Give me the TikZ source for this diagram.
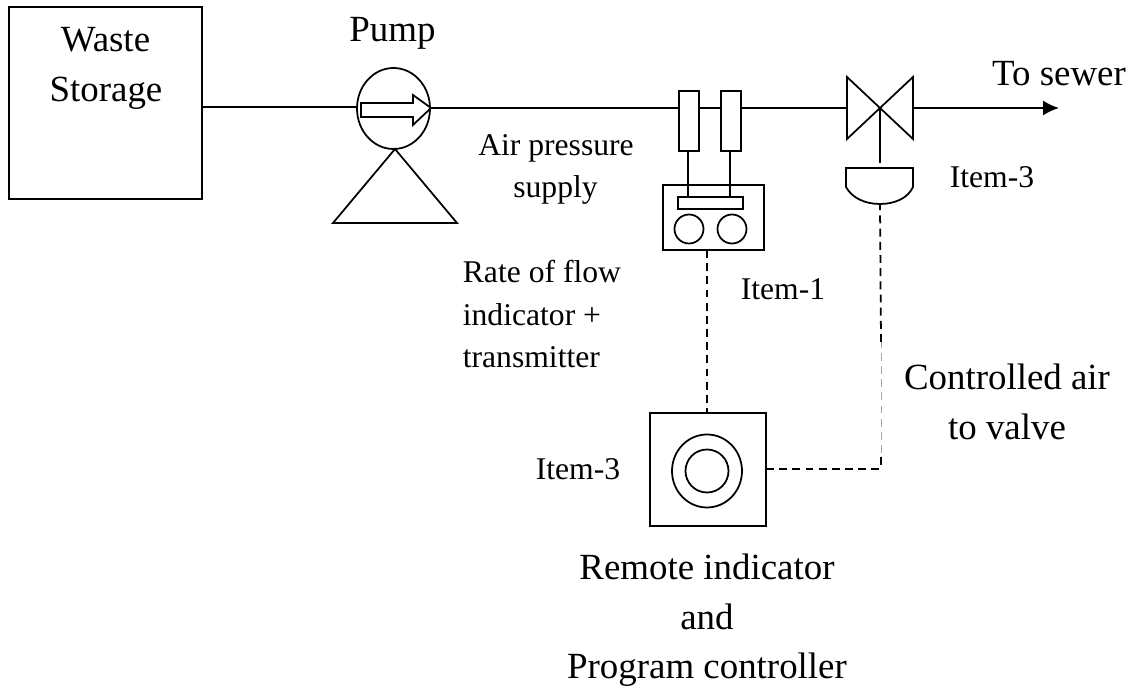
\documentclass[tikz,border=0pt]{standalone}
\usepackage{fontspec}
\setmainfont{Liberation Serif}
\usetikzlibrary{shapes.geometric}
\usetikzlibrary{arrows.meta}

\tikzset{
  box/.style={draw,rectangle,inner sep=0pt,outer sep=0pt},
  round/.style={draw,ellipse,inner sep=0pt,outer sep=0pt},
  biglabel/.style={font=\fontsize{21}{25}\selectfont,anchor=base,inner sep=0pt},
  smalllabel/.style={font=\fontsize{18}{22}\selectfont,anchor=base,inner sep=0pt},
  signal/.style={dash pattern=on 4.5pt off 3pt}
}

\begin{document}
\begin{tikzpicture}[x=0.02cm,y=-0.02cm,line width=1pt]
  \useasboundingbox (0,0) rectangle (1134,688);

  \node[box,minimum width=193*0.02cm,minimum height=192*0.02cm] (storage) at (105.5,103) {};
  \node[round,minimum width=73*0.02cm,minimum height=81*0.02cm] (pump) at (393.5,108.5) {};
  \coordinate (pumpin) at (357,107);
  \coordinate (pumpout) at (431,108);
  \draw (storage.east |- pumpin) -- (pumpin);
  \draw (395,149) coordinate (apex) -- (333,223) -- (457,223) -- cycle;
  \draw (361,103)--(413,103)--(413,95)--(pumpout)--(413,125)--(413,117)--(361,117)--cycle;

  \node[box,minimum width=20*0.02cm,minimum height=60*0.02cm] (sensorA) at (689,121) {};
  \node[box,minimum width=20*0.02cm,minimum height=60*0.02cm] (sensorB) at (731,121) {};
  \coordinate (valveleft) at (847,108);
  \coordinate (valvemid) at (880,109);
  \coordinate (valveright) at (913,108);
  \coordinate (sewer) at (1059,108);
  \draw (pumpout) -- (sensorA.west |- pumpout);
  \draw (sensorA.east |- pumpout) -- (sensorB.west |- pumpout);
  \draw (sensorB.east |- pumpout) -- (valveleft);
  \draw (847,77) -- (913,139) -- (913,77) -- (847,139) -- cycle;
  \draw[-{Latex[length=16*0.02cm,width=15*0.02cm]}] (valveright) -- (sewer);

  % indicator
  \node[box,minimum width=101*0.02cm,minimum height=65*0.02cm] (indicator) at (713.5,217.5) {};
  \node[box,minimum width=65*0.02cm,minimum height=12*0.02cm] (bar) at (710.5,203) {};
  \node[round,minimum size=29*0.02cm] (dialA) at (689,229) {};
  \node[round,minimum size=29*0.02cm] (dialB) at (732,229) {};
  \draw (688,151) -- (688,197);
  \draw (730,151) -- (730,197);

  % actuator
  \coordinate (acttop) at (880,163);
  \coordinate (actbottom) at (880,204);
  \draw (valvemid) -- (acttop);
  \draw (846,168) -- (913,168) -- (913,187) .. controls (908,198) and (895,204) .. (actbottom)
    .. controls (865,204) and (852,198) .. (846,187) -- cycle;

  % controller
  \node[box,minimum width=116*0.02cm,minimum height=113*0.02cm] (controller) at (708,469.5) {};
  \node[round,minimum width=70*0.02cm,minimum height=73*0.02cm] (ringA) at (707,471) {};
  \node[round,minimum size=43*0.02cm] (ringB) at (707,471) {};
  \coordinate (corner) at (881,469);
  \coordinate (fade) at (881,342);
  \coordinate (fadeend) at (881,453);
  \draw[signal] (indicator.south -| ringA) -- (ringA |- controller.north);
  \draw[signal,line width=0.8pt] (controller.east |- corner) -- (corner) -- (fadeend);
  \draw[signal] (fade) -- (actbottom);
  \draw[signal,thin,gray!70] (fadeend) -- (fade);

  \node[biglabel] (wastetext) at (105.5,52) {Waste};
  \node[biglabel] (storagetext) at (106,102) {Storage};
  \node[biglabel] (pumptext) at (392.5,42) {Pump};
  \node[biglabel] (sewertext) at (1059,86) {To sewer};
  \node[smalllabel] (airA) at (556,156) {Air pressure};
  \node[smalllabel] (airB) at (555.5,198) {supply};
  \node[smalllabel,anchor=base west] (rateA) at (462,283) {Rate of flow};
  \node[smalllabel,anchor=base west] (rateB) at (462,326) {indicator +};
  \node[smalllabel,anchor=base west] (rateC) at (462,368) {transmitter};
  \node[smalllabel] (itemA) at (992,188) {Item-3};
  \node[smalllabel] (itemB) at (783,300) {Item-1};
  \node[smalllabel] (itemC) at (578,480) {Item-3};
  \node[biglabel] (ctrlA) at (1007,390) {Controlled air};
  \node[biglabel] (ctrlB) at (1007,440) {to valve};
  \node[biglabel] (remoteA) at (707,580) {Remote indicator};
  \node[biglabel] (remoteB) at (707,630) {and};
  \node[biglabel] (remoteC) at (707,679) {Program controller};
\end{tikzpicture}
\end{document}
